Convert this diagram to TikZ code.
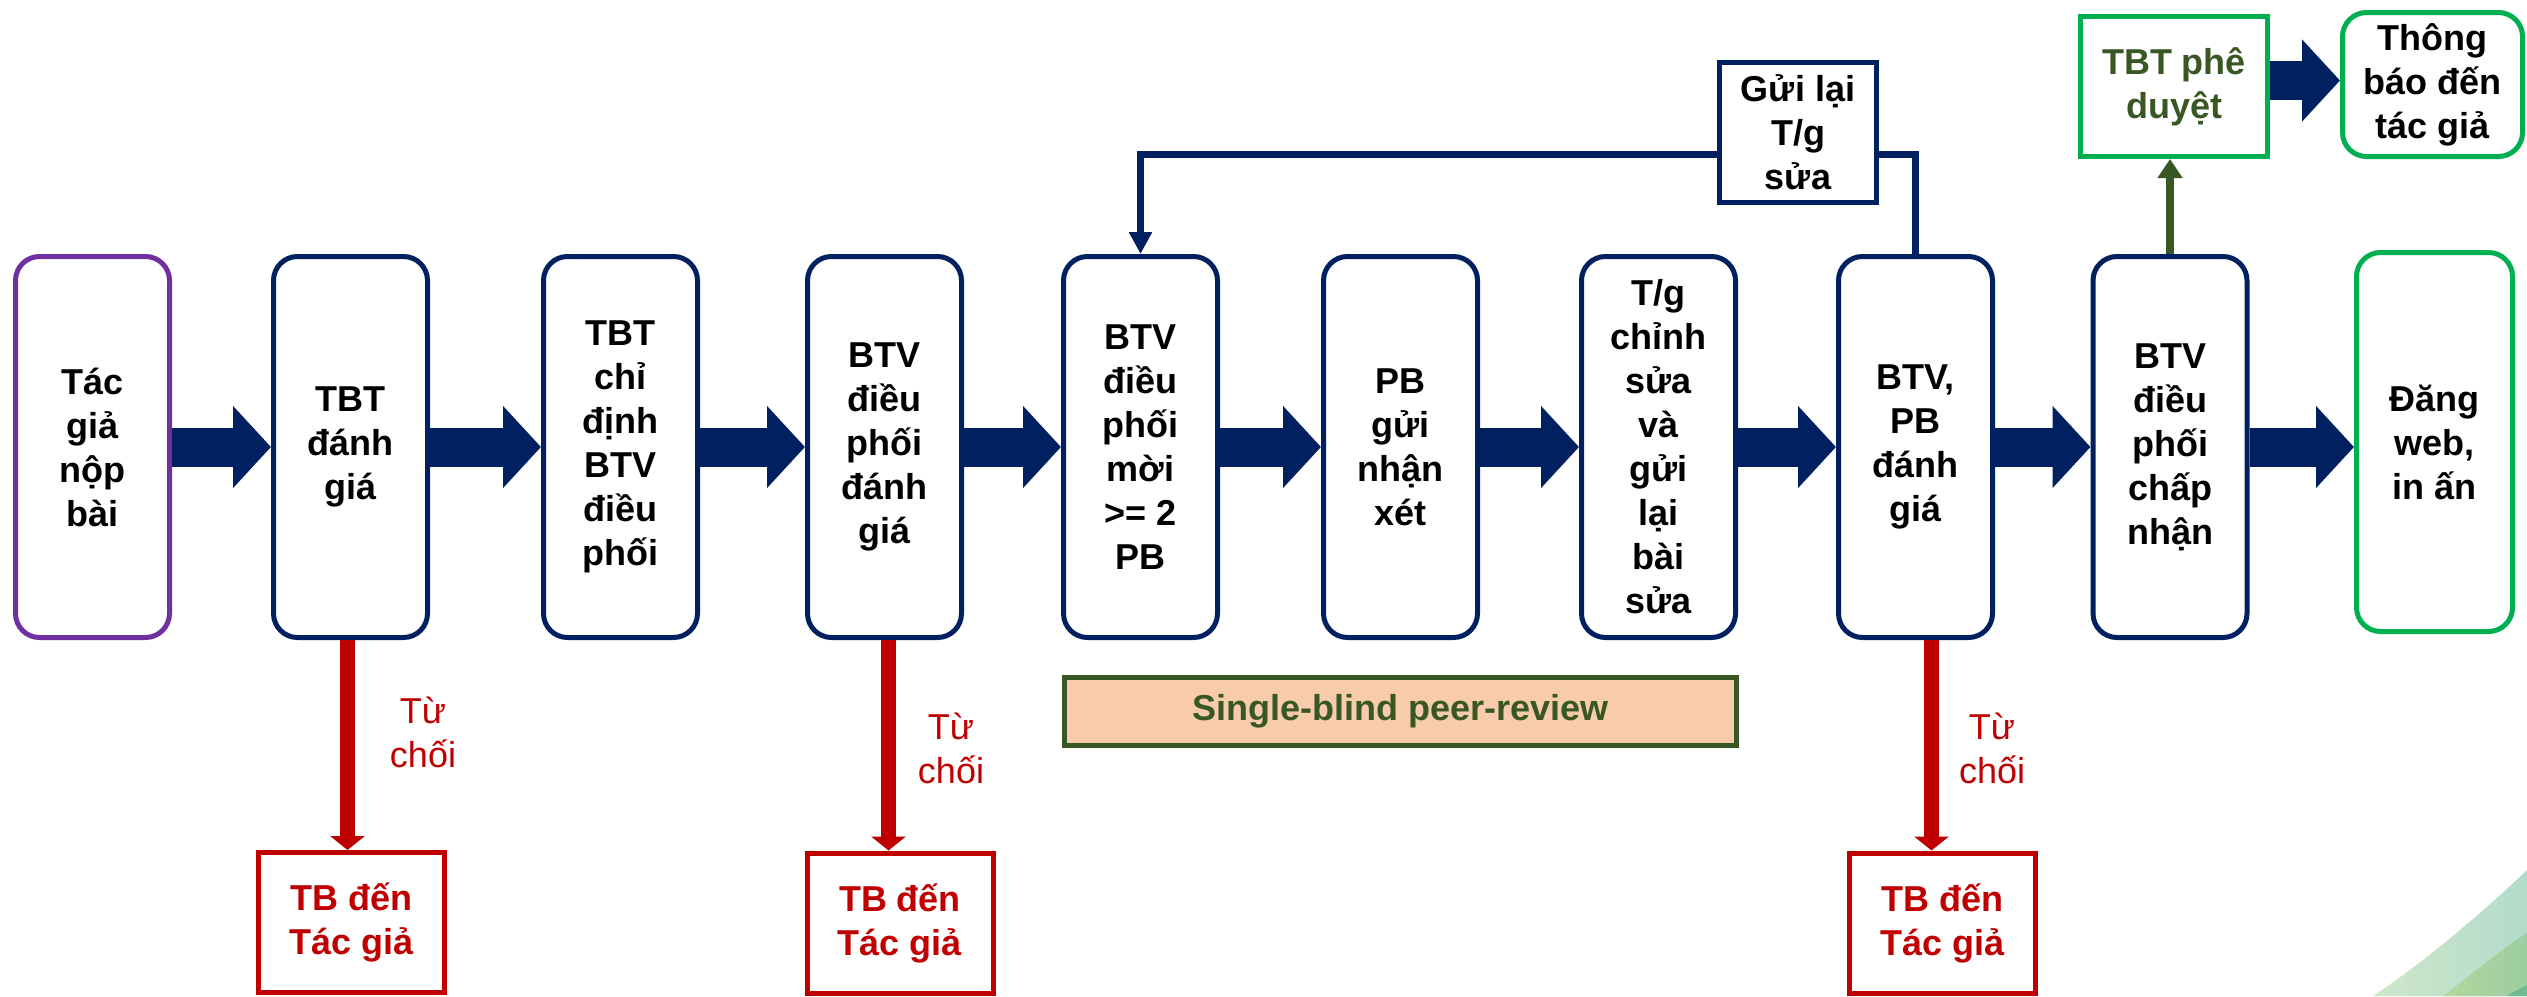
\documentclass[tikz,border=0pt]{standalone}
\usepackage{fontspec}
\setmainfont{Liberation Sans}
\usetikzlibrary{arrows.meta}
\definecolor{navy}{HTML}{002060}
\definecolor{purp}{HTML}{7030A0}
\definecolor{grn}{HTML}{00B050}
\definecolor{rd}{HTML}{C00000}
\definecolor{dkgrn}{HTML}{385723}
\definecolor{peach}{HTML}{F8CBAD}
\definecolor{sw1a}{HTML}{CFE7CA}
\definecolor{sw1b}{HTML}{B2DBCB}
\definecolor{sw2a}{HTML}{B3D79E}
\definecolor{sw2b}{HTML}{9BCE9F}
\definecolor{sw3}{HTML}{6DBA93}
\begin{document}
\begin{tikzpicture}[x=0.5pt,y=-0.5pt,
  txt/.style={font=\bfseries\fontsize{18}{22}\selectfont, align=center, inner sep=0pt},
  stepbox/.style={txt, draw=navy, line width=2.5pt, rounded corners=12pt,
    minimum width=77pt, minimum height=190.5pt, fill=white},
  sqbox/.style={txt, draw=navy, line width=2.5pt, fill=white},
  redbox/.style={txt, draw=rd, text=rd, line width=2.5pt, minimum width=93pt, minimum height=70pt, fill=white},
  rejlabel/.style={font=\fontsize{18}{22}\selectfont, align=center, inner sep=0pt, text=rd},
  blockarrow/.style={draw=navy, line width=19.5pt, -{Triangle[length=19pt,width=40pt]}},
  redarrow/.style={draw=rd, line width=7.5pt, -{Triangle[length=7pt,width=17pt]}},
  fbline/.style={draw=navy, line width=3.2pt},
  grnarrow/.style={draw=dkgrn, line width=4pt, -{Triangle[length=9.5pt,width=12pt]}}
]
\useasboundingbox (0,0) rectangle (2527,996);
\fill[white] (0,0) rectangle (2527,996);

% decorative swoosh
\shade[left color=sw1a, right color=sw1b] (2373,996) .. controls (2420,965) and (2480,915) .. (2527,870) -- (2527,996) -- cycle;
\shade[left color=sw2a, right color=sw2b] (2443,996) .. controls (2475,972) and (2500,950) .. (2527,933) -- (2527,996) -- cycle;
\fill[sw3] (2507,996) .. controls (2513,992) .. (2527,985) -- (2527,996) -- cycle;

% main boxes
\node[stepbox, draw=purp] (b1) at (92.5,447) {Tác\\giả\\nộp\\bài};
\node[stepbox] (b2) at (350.5,447) {TBT\\đánh\\giá};
\node[stepbox] (b3) at (620.5,447) {TBT\\chỉ\\định\\BTV\\điều\\phối};
\node[stepbox] (b4) at (884.5,447) {BTV\\điều\\phối\\đánh\\giá};
\node[stepbox] (b5) at (1140.5,447) {BTV\\điều\\phối\\mời\\>= 2\\PB};
\node[stepbox] (b6) at (1400.5,447) {PB\\gửi\\nhận\\xét};
\node[stepbox] (b7) at (1658.5,447) {T/g\\chỉnh\\sửa\\và\\gửi\\lại\\bài\\sửa};
\node[stepbox] (b8) at (1915.5,447) {BTV,\\PB\\đánh\\giá};
\node[stepbox] (b9) at (2170,447) {BTV\\điều\\phối\\chấp\\nhận};
\node[stepbox, draw=grn, minimum width=78pt, minimum height=189.5pt] (b10) at (2434.5,442) {Đăng\\web,\\in ấn};

% top boxes
\node[sqbox, minimum width=78.5pt, minimum height=70pt] (gui) at (1798,132.5) {Gửi lại\\T/g\\sửa};
\node[sqbox, draw=grn, text=dkgrn, minimum width=93.5pt, minimum height=70pt] (tbt) at (2174,86.5) {TBT phê\\duyệt};
\node[sqbox, draw=grn, rounded corners=12pt, minimum width=90pt, minimum height=72pt] (thong) at (2432.5,84.5) {Thông\\báo đến\\tác giả};

% reject boxes
\node[redbox] (tb1) at (351.5,922.5) {TB đến\\Tác giả};
\node[redbox] (tb2) at (900,923) {TB đến\\Tác giả};
\node[redbox] (tb3) at (1942.5,923) {TB đến\\Tác giả};

% single-blind label
\node[txt, draw=dkgrn, fill=peach, text=dkgrn, line width=2.5pt, minimum width=336pt, minimum height=34pt] (sb) at (1400.5,711) {Single-blind peer-review};

% block arrows
\draw[blockarrow] (b1.east) -- (b2.west);
\draw[blockarrow] (b2.east) -- (b3.west);
\draw[blockarrow] (b3.east) -- (b4.west);
\draw[blockarrow] (b4.east) -- (b5.west);
\draw[blockarrow] (b5.east) -- (b6.west);
\draw[blockarrow] (b6.east) -- (b7.west);
\draw[blockarrow] (b7.east) -- (b8.west);
\draw[blockarrow] (b8.east) -- (b9.west);
\draw[blockarrow] (b9.east) -- (b9.east -| b10.west);
\draw[blockarrow] ([yshift=3pt]tbt.east) -- ([yshift=3pt]tbt.east -| thong.west);

% feedback loop
\draw[fbline] (b8.north) |- ([yshift=-11pt]gui.east);
\draw[fbline, -{Triangle[length=11pt,width=11pt]}] ([yshift=-11pt]gui.west) -| (b5.north);

% approval arrow
\draw[grnarrow] (b9.north) -- (b9.north |- tbt.south);

% reject arrows
\draw[redarrow] ([xshift=-1.5pt]b2.south) -- ([xshift=-1.5pt]b2.south |- tb1.north);
\draw[redarrow] ([xshift=2pt]b4.south) -- ([xshift=2pt]b4.south |- tb2.north);
\draw[redarrow] ([xshift=8pt]b8.south) -- ([xshift=8pt]b8.south |- tb3.north);

\node[rejlabel] (r1) at (423,732) {Từ\\chối};
\node[rejlabel] (r2) at (951,748) {Từ\\chối};
\node[rejlabel] (r3) at (1992,748) {Từ\\chối};
\end{tikzpicture}
\end{document}
